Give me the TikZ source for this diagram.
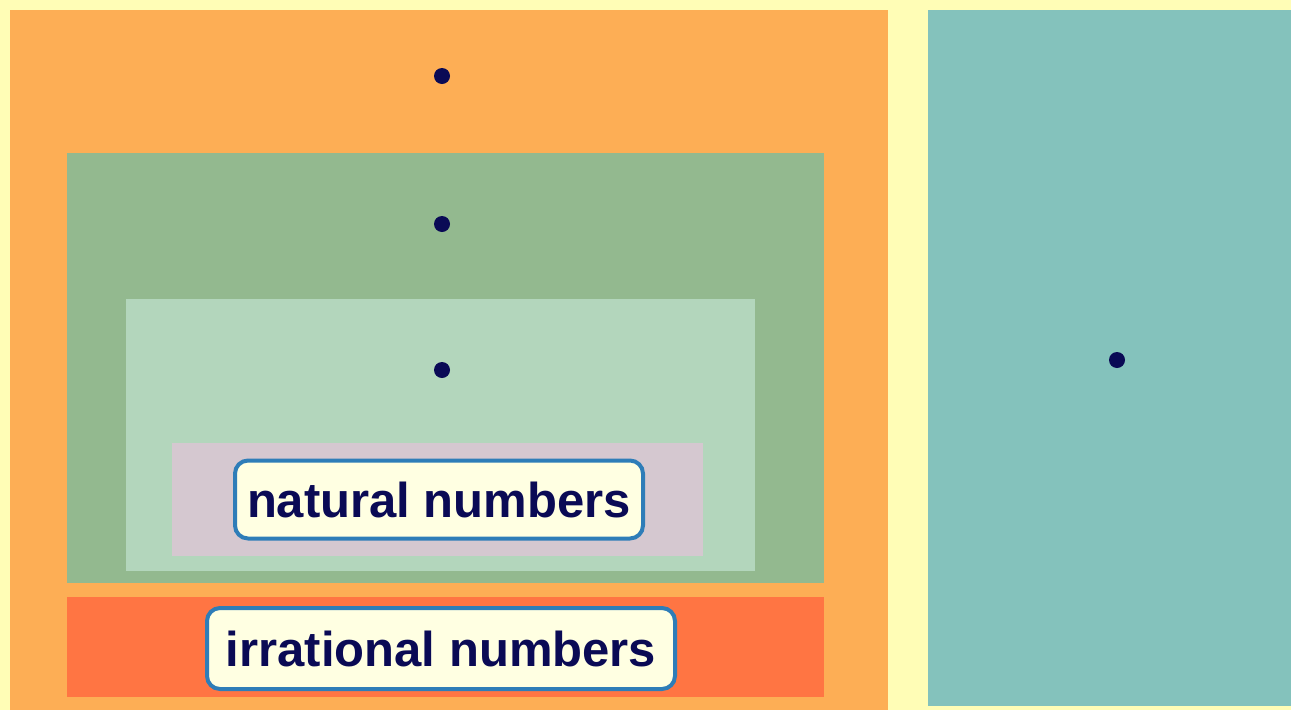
\documentclass[tikz,border=0pt]{standalone}
\usepackage{fontspec}
\setmainfont{Liberation Sans}
\definecolor{bgyellow}{RGB}{255,253,182}
\definecolor{orangeA}{RGB}{253,174,85}
\definecolor{greenA}{RGB}{147,185,143}
\definecolor{greenB}{RGB}{179,214,188}
\definecolor{pinkA}{RGB}{213,200,208}
\definecolor{redA}{RGB}{255,117,67}
\definecolor{tealA}{RGB}{132,194,188}
\definecolor{navy}{RGB}{10,10,85}
\definecolor{labelblue}{RGB}{46,125,184}
\definecolor{labelfill}{RGB}{255,255,226}
\begin{document}
\begin{tikzpicture}[x=1pt,y=-1pt,
  region/.style={draw=none,inner sep=0pt,anchor=north west},
  dotmark/.style={circle,fill=navy,inner sep=0pt,minimum size=16pt},
  numlabel/.style={draw=labelblue,line width=4pt,fill=labelfill,rounded corners=13pt,
    inner sep=0pt,text=navy,font=\fontsize{49}{52}\selectfont\bfseries}]
\useasboundingbox (0,0) rectangle (1291,710);
\fill[bgyellow] (0,0) rectangle (1291,710);
\node[region,fill=orangeA,minimum width=878pt,minimum height=700pt] (real) at (10,10) {};
\node[region,fill=greenA,minimum width=757pt,minimum height=430pt] (rat) at (67,153) {};
\node[region,fill=greenB,minimum width=629pt,minimum height=272pt] (int) at (126,299) {};
\node[region,fill=pinkA,minimum width=531pt,minimum height=113pt] (nat) at (172,443) {};
\node[region,fill=redA,minimum width=757pt,minimum height=100pt] (irr) at (67,597) {};
\node[region,fill=tealA,minimum width=363pt,minimum height=696pt] (cpx) at (928,10) {};
\node[dotmark] (d1) at (442,76) {};
\node[dotmark] (d2) at (442,224) {};
\node[dotmark] (d3) at (442,370) {};
\node[dotmark] (d4) at (1117,360) {};
\node[numlabel,minimum width=408pt,minimum height=78pt] (natlab) at (439,499.5) {natural numbers};
\node[numlabel,minimum width=468pt,minimum height=81pt] (irrlab) at (441,648.5) {irrational numbers};
\end{tikzpicture}
\end{document}
